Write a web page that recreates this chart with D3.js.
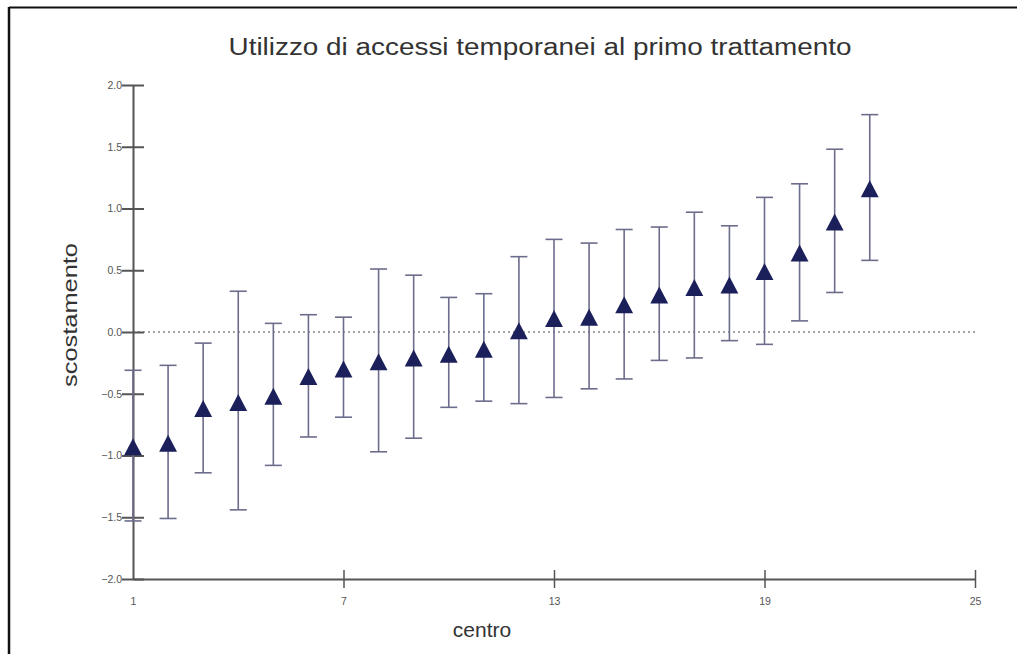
<!DOCTYPE html>
<html>
<head>
<meta charset="utf-8">
<script src="https://cdn.jsdelivr.net/npm/d3@7"></script>
<style>
  html, body { margin: 0; padding: 0; background: #fff; }
  svg { display: block; }
</style>
</head>
<body>
<svg id="chart" width="1017" height="654"></svg>
<script>
const centers = [1,2,3,4,5,6,7,8,9,10,11,12,13,14,15,16,17,18,19,20,21,22];
const means = [-0.93,-0.90,-0.62,-0.57,-0.52,-0.36,-0.30,-0.24,-0.21,-0.18,-0.14,0.01,0.11,0.12,0.22,0.30,0.36,0.38,0.49,0.64,0.89,1.16];
const upper = [-0.31,-0.27,-0.09,0.33,0.07,0.14,0.12,0.51,0.46,0.28,0.31,0.61,0.75,0.72,0.83,0.85,0.97,0.86,1.09,1.20,1.48,1.76];
const lower = [-1.53,-1.51,-1.14,-1.44,-1.08,-0.85,-0.69,-0.97,-0.86,-0.61,-0.56,-0.58,-0.53,-0.46,-0.38,-0.23,-0.21,-0.07,-0.10,0.09,0.32,0.58];
const xTicks = [1,7,13,19,25];
const yTicks = [-2.0,-1.5,-1.0,-0.5,0.0,0.5,1.0,1.5,2.0];
const title = "Utilizzo di accessi temporanei al primo trattamento";
const xLabel = "centro";
const yLabel = "scostamento";

const svg = d3.select("#chart");
const x = d3.scaleLinear().domain([1,25]).range([133,975]);
const y = d3.scaleLinear().domain([-2,2]).range([579,85]);
const font = "Liberation Sans, Arial, sans-serif";

// frame
svg.append("line").attr("x1",9).attr("x2",1017).attr("y1",7.5).attr("y2",7.5).attr("stroke","#111").attr("stroke-width",2);
svg.append("line").attr("x1",9).attr("x2",9).attr("y1",7).attr("y2",654).attr("stroke","#111").attr("stroke-width",2.5);

// title
svg.append("text").attr("x",540).attr("y",55).attr("text-anchor","middle")
  .attr("font-family",font).attr("font-size",23)
  .attr("fill","#333").attr("textLength",623).attr("lengthAdjust","spacingAndGlyphs").text(title);

// zero dotted line
svg.append("line").attr("x1",x(1)).attr("x2",977).attr("y1",y(0)).attr("y2",y(0))
  .attr("stroke","#888").attr("stroke-width",1.6).attr("stroke-dasharray","2,3");

// y axis
const yAxis = d3.axisLeft(y).tickValues(yTicks).tickFormat(d3.format(".1f")).tickSizeInner(11).tickSizeOuter(0).tickPadding(1);
const gy = svg.append("g").attr("transform",`translate(${x(1)},0)`).call(yAxis);
gy.select(".domain").attr("stroke","#555").attr("stroke-width",2);
gy.selectAll(".tick line").attr("stroke","#555").attr("stroke-width",2).attr("x2",11).attr("x1",-11);
gy.selectAll(".tick text").attr("font-family",font).attr("font-size",10.5).attr("fill","#555").attr("x",-11);

// x axis
const xAxis = d3.axisBottom(x).tickValues(xTicks).tickFormat(d3.format("d")).tickSizeInner(10).tickSizeOuter(0).tickPadding(9);
const gx = svg.append("g").attr("transform",`translate(0,${y(-2)})`).call(xAxis);
gx.select(".domain").attr("stroke","#555").attr("stroke-width",2);
gx.selectAll(".tick line").attr("stroke","#555").attr("stroke-width",1.5).attr("y1",-9).attr("y2",9)
  .attr("display", d => d === 1 ? "none" : null);
gx.selectAll(".tick text").attr("font-family",font).attr("font-size",10.5).attr("fill","#555");

// axis labels
svg.append("text").attr("x",482).attr("y",637).attr("text-anchor","middle")
  .attr("font-family",font).attr("font-size",21).attr("fill","#333").text(xLabel);
svg.append("text").attr("transform",`translate(77,315) rotate(-90)`).attr("text-anchor","middle")
  .attr("font-family",font).attr("font-size",21).attr("fill","#333")
  .attr("textLength",144).attr("lengthAdjust","spacingAndGlyphs").text(yLabel);

const data = centers.map((c,i)=>({c, m:means[i], hi:upper[i], lo:lower[i]}));
const barColor = "#6c6c8c";
const g = svg.append("g");
g.selectAll("line.v").data(data).join("line").attr("class","v")
  .attr("x1",d=>x(d.c)).attr("x2",d=>x(d.c)).attr("y1",d=>y(d.hi)).attr("y2",d=>y(d.lo))
  .attr("stroke",barColor).attr("stroke-width",1.6);
g.selectAll("line.ct").data(data).join("line").attr("class","ct")
  .attr("x1",d=>x(d.c)-8.5).attr("x2",d=>x(d.c)+8.5).attr("y1",d=>y(d.hi)).attr("y2",d=>y(d.hi))
  .attr("stroke",barColor).attr("stroke-width",1.6);
g.selectAll("line.cb").data(data).join("line").attr("class","cb")
  .attr("x1",d=>x(d.c)-8.5).attr("x2",d=>x(d.c)+8.5).attr("y1",d=>y(d.lo)).attr("y2",d=>y(d.lo))
  .attr("stroke",barColor).attr("stroke-width",1.6);

const tri = { draw(ctx, size) { const h = Math.sqrt(size)/2; ctx.moveTo(0,-h); ctx.lineTo(h*1.05,h); ctx.lineTo(-h*1.05,h); ctx.closePath(); } };
g.selectAll("path.m").data(data).join("path").attr("class","m")
  .attr("transform",d=>`translate(${x(d.c)},${y(d.m)})`)
  .attr("d", d3.symbol().type(tri).size(289))
  .attr("fill","#1b1f5a");
</script>
</body>
</html>
